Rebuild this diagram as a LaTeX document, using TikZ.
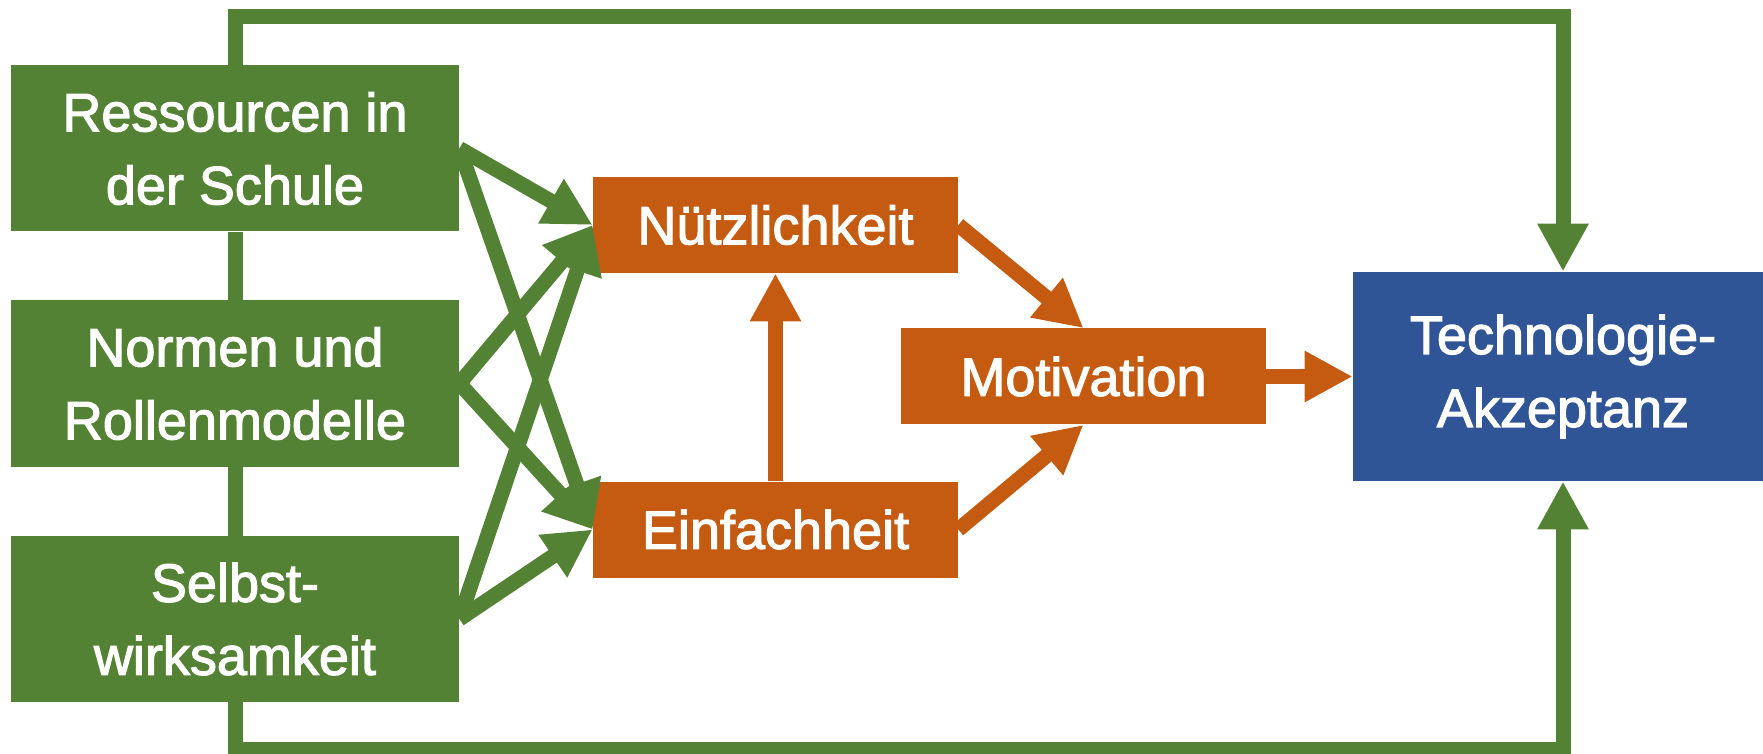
\documentclass[tikz,border=0pt]{standalone}
\usepackage{fontspec}
\setmainfont{Liberation Sans}
\newfontfamily\boxfont{Liberation Sans}[BoldFont={Liberation Sans}, BoldFeatures={FakeBold=2.2}]
\usetikzlibrary{arrows.meta}

\definecolor{grn}{RGB}{84,130,53}
\definecolor{org}{RGB}{197,90,17}
\definecolor{blu}{RGB}{47,85,151}

\begin{document}
\begin{tikzpicture}[x=0.5pt,y=-0.5pt,
  box/.style={inner sep=0pt, text=white, align=center, font=\boxfont\bfseries\fontsize{27}{36.5}\selectfont},
  greenbox/.style={box, fill=grn, minimum width=224pt, minimum height=83pt},
  orangebox/.style={box, fill=org, minimum width=182.5pt, minimum height=48pt},
  bluebox/.style={box, fill=blu, minimum width=210pt, minimum height=104.5pt},
  head/.style={-{Triangle[length=24pt,width=24pt]}},
  link/.style={head, line width=7.5pt, grn},
  olink/.style={head, line width=7.5pt, org},
  loopline/.style={line width=7.5pt, grn}
]
\useasboundingbox (0,0) rectangle (1763,754);

\node[greenbox] (res) at (235,148.5) {Ressourcen in\\der Schule};
\node[greenbox] (norm) at (235,383.5) {Normen und\\Rollenmodelle};
\node[greenbox] (selbst) at (235,619) {Selbst-\\wirksamkeit};

\node[orangebox] (nutz) at (775.5,225) {Nützlichkeit};
\node[orangebox] (einf) at (775.5,529.5) {Einfachheit};
\node[orangebox] (motiv) at (1083.5,376.5) {Motivation};

\node[bluebox] (akz) at (1563,376.5) {Technologie-\\Akzeptanz};

% feedback lines around the picture
\coordinate (top) at (0,17);
\coordinate (bot) at (0,749.5);
\draw[loopline] (res.south) -- (norm.north) (norm.south) -- (selbst.north);
\draw[loopline, head] (res.north) -- (res |- top) -| (akz.north);
\draw[loopline, head] (selbst.south) -- (selbst |- bot) -| (akz.south);

% green boxes into the two orange ones
\foreach \src in {res,norm,selbst}{
  \draw[link] (\src.east) -- (nutz.west);
  \draw[link] (\src.east) -- (einf.west);
}

\draw[olink] (einf.north) -- (nutz.south);
\draw[olink] (nutz.east) -- (motiv.north);
\draw[olink] (einf.east) -- (motiv.south);
\draw[olink] (motiv.east) -- (akz.west);

\end{tikzpicture}
\end{document}
